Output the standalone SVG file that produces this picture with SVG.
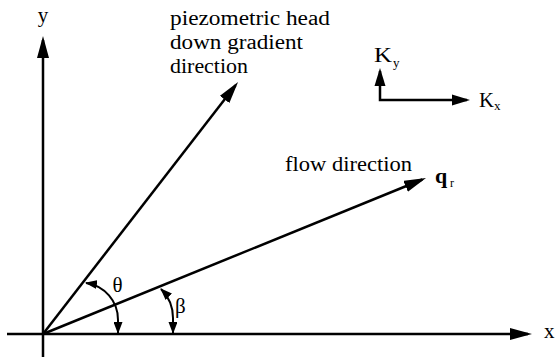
<svg xmlns="http://www.w3.org/2000/svg" width="555" height="358" viewBox="0 0 555 358">
  <style>
    .ln { fill: none; stroke: #000; stroke-width: 2.5; }
    .arc { fill: none; stroke: #000; stroke-width: 2; }
    text { font-family: 'Liberation Serif', 'DejaVu Serif', 'Times New Roman', serif; fill: #000; }
    .t { font-size: 20px; }
    .sym { font-size: 21px; }
    .sub { font-size: 13px; }
    .q { font-size: 22px; font-weight: bold; }
    .r { font-size: 12px; }
  </style>
  <defs>
    <marker id="big" markerUnits="userSpaceOnUse" markerWidth="22" markerHeight="12" refX="18" refY="6" orient="auto-start-reverse">
      <path d="M0,0 L22,6 L0,12 z" fill="#000"/>
    </marker>
    <marker id="mid" markerUnits="userSpaceOnUse" markerWidth="18" markerHeight="12" refX="15" refY="6" orient="auto-start-reverse">
      <path d="M0,0.5 L18,6 L0,11.5 z" fill="#000"/>
    </marker>
    <marker id="small" markerUnits="userSpaceOnUse" markerWidth="12" markerHeight="9" refX="11" refY="4.5" orient="auto-start-reverse">
      <path d="M0,0 L12,4.5 L0,9 z" fill="#000"/>
    </marker>
  </defs>

  <rect width="555" height="358" fill="#fff"/>

  <g id="connectors">
    <line id="y-axis" class="ln" x1="43" y1="357" x2="43" y2="40" marker-end="url(#big)"/>
    <line id="x-axis" class="ln" x1="7" y1="334" x2="528" y2="334" marker-end="url(#big)"/>
    <line id="gradient-vector" class="ln" x1="43" y1="334" x2="235.6" y2="85.2" marker-end="url(#big)"/>
    <line id="flow-vector" class="ln" x1="43" y1="334" x2="422.3" y2="179.5" marker-end="url(#big)"/>
    <path id="k-axes" class="ln" d="M380,71 L380,100 L467,100" marker-start="url(#mid)" marker-end="url(#mid)"/>
    <path id="theta-arc" class="arc" d="M86,283 A37 37 0 0 1 118,320 L118,333" marker-start="url(#small)" marker-end="url(#small)"/>
    <path id="beta-arc" class="arc" d="M161,289 A41 41 0 0 1 173,318 L173,333" marker-start="url(#small)" marker-end="url(#small)"/>
  </g>

  <g id="label-y"><text class="sym" x="43" y="22" text-anchor="middle">y</text></g>
  <g id="label-x"><text class="sym" x="544" y="338">x</text></g>

  <g id="label-gradient">
    <text class="t" x="170" y="25" textLength="160" lengthAdjust="spacingAndGlyphs">piezometric head</text>
    <text class="t" x="170" y="49" textLength="133" lengthAdjust="spacingAndGlyphs">down gradient</text>
    <text class="t" x="170" y="73" textLength="78" lengthAdjust="spacingAndGlyphs">direction</text>
  </g>

  <g id="label-flow">
    <text class="t" x="285" y="171" textLength="127" lengthAdjust="spacingAndGlyphs">flow direction</text>
  </g>

  <g id="label-qr">
    <text class="q" x="435" y="183">q</text>
    <text class="r" x="450" y="187">r</text>
  </g>

  <g id="label-ky">
    <text class="t" x="374" y="62" textLength="18" lengthAdjust="spacingAndGlyphs">K</text>
    <text class="sub" x="393" y="67">y</text>
  </g>
  <g id="label-kx">
    <text class="t" x="479" y="107" textLength="15" lengthAdjust="spacingAndGlyphs">K</text>
    <text class="sub" x="494" y="110">x</text>
  </g>

  <g id="label-theta"><text class="sym" x="117.5" y="292" text-anchor="middle">θ</text></g>
  <g id="label-beta"><text class="sym" x="175" y="313">β</text></g>
</svg>
